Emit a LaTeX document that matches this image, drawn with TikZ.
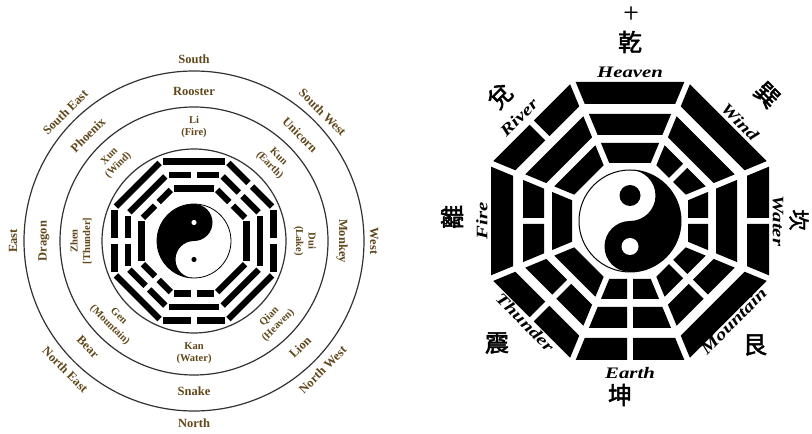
\documentclass[tikz,border=0pt]{standalone}
\usepackage{fontspec}
\setmainfont{Liberation Serif}
\newfontfamily\cjk[FakeBold=2]{Noto Sans CJK TC}
\definecolor{txtbrown}{RGB}{96,72,26}
\definecolor{ringgray}{RGB}{50,50,50}
\begin{document}
\begin{tikzpicture}[x=1pt,y=1pt,
  lab/.style={font=\fontsize{12.5}{13}\selectfont\bfseries, text=txtbrown, inner sep=0pt},
  tri/.style={font=\fontsize{10.5}{12.5}\selectfont\bfseries, text=txtbrown, align=center, inner sep=0pt},
  ringline/.style={draw=ringgray, line width=1.2pt},
  scr/.style={font=\fontsize{16}{16}\selectfont\bfseries\itshape, inner sep=0pt},
  han/.style={font=\cjk\fontsize{24}{24}\selectfont, inner sep=0pt}]
\useasboundingbox (0,0) rectangle (812,434);
\fill[white] (0,0) rectangle (812,434);

% ---------------- left diagram ----------------
\coordinate (LC) at (194,193);
\draw[ringline] (LC) circle[radius=170];
\draw[ringline] (LC) circle[radius=134];
\draw[ringline] (LC) circle[radius=92];

% directions
\node[lab] (south) at ([shift={(90:182)}]LC) {South};
\node[lab,rotate=45] (southeast) at ([shift={(135:182)}]LC) {South East};
\node[lab,rotate=90] (east) at ([shift={(180:181)}]LC) {East};
\node[lab,rotate=-45] (northeast) at ([shift={(225:182)}]LC) {North East};
\node[lab] (north) at ([shift={(270:182)}]LC) {North};
\node[lab,rotate=45] (northwest) at ([shift={(315:182)}]LC) {North West};
\node[lab,rotate=-90] (west) at ([shift={(0:180)}]LC) {West};
\node[lab,rotate=-45] (southwest) at ([shift={(45:182)}]LC) {South West};

% animals
\node[lab] (rooster) at ([shift={(90:150)}]LC) {Rooster};
\node[lab,rotate=45] (phoenix) at ([shift={(135:150)}]LC) {Phoenix};
\node[lab,rotate=90] (dragon) at ([shift={(180:150)}]LC) {Dragon};
\node[lab,rotate=-45] (bear) at ([shift={(225:150)}]LC) {Bear};
\node[lab] (snake) at ([shift={(270:150)}]LC) {Snake};
\node[lab,rotate=45] (lion) at ([shift={(315:150)}]LC) {Lion};
\node[lab,rotate=-90] (monkey) at ([shift={(0:148)}]LC) {Monkey};
\node[lab,rotate=-45] (unicorn) at ([shift={(45:150)}]LC) {Unicorn};

% trigram names
\node[tri] (lifire) at ([shift={(90:114)}]LC) {Li\\(Fire)};
\node[tri,rotate=45] (xunwind) at ([shift={(135:113)}]LC) {Xun\\(Wind)};
\node[tri,rotate=90] (zhenthunder) at ([shift={(180:113)}]LC) {Zhen\\{[}Thunder{]}};
\node[tri,rotate=-45] (genmountain) at ([shift={(225:113)}]LC) {Gen\\(Mountain)};
\node[tri] (kanwater) at ([shift={(270:112)}]LC) {Kan\\(Water)};
\node[tri,rotate=45] (qianheaven) at ([shift={(315:113)}]LC) {Qian\\(Heaven)};
\node[tri,rotate=-90] (duilake) at ([shift={(0:111)}]LC) {Dui\\(Lake)};
\node[tri,rotate=-45] (kunearth) at ([shift={(45:113)}]LC) {Kun\\(Earth)};

% trigram bars (inner, middle, outer): 1 solid, 0 broken
\foreach \ang/\bi/\bm/\bo in {90/1/0/1, 45/0/0/0, 0/1/1/0, -45/1/1/1, -90/0/1/0, -135/0/0/1, 180/1/0/0, 135/0/1/1}{
  \begin{scope}[shift={(LC)},rotate=\ang-90]
    \foreach \ap/\bit in {52.5/\bi, 66/\bm, 79.5/\bo}{
      \pgfmathsetmacro\hl{(0.828*\ap-4)/2}
      \ifnum\bit=1
        \fill[black] (-\hl,\ap-3.1) rectangle (\hl,\ap+3.1);
      \else
        \fill[black] (-\hl,\ap-3.1) rectangle (-2.6,\ap+3.1);
        \fill[black] (2.6,\ap-3.1) rectangle (\hl,\ap+3.1);
      \fi
    }
  \end{scope}
}

% left yin-yang
\fill[black] ([shift={(0,37)}]LC) arc[start angle=90,end angle=270,radius=37]
  arc[start angle=270,end angle=90,radius=18.5]
  arc[start angle=-90,end angle=90,radius=18.5] -- cycle;
\draw[black,line width=0.8pt] (LC) circle[radius=37];
\fill[white] ([shift={(0,18.5)}]LC) circle[radius=2.6];
\fill[black] ([shift={(0,-18.5)}]LC) circle[radius=2.6];

% ---------------- right diagram ----------------
\coordinate (RC) at (630,213);
\foreach \ang/\bi/\bm/\bo in {90/1/1/1, 45/0/1/1, 0/0/1/0, -45/0/0/1, -90/0/0/0, -135/1/0/0, 180/1/0/1, 135/1/1/0}{
  \begin{scope}[shift={(RC)},rotate=\ang-90]
    \foreach \ai/\ao/\bit in {58/78/\bi, 86/107/\bm, 117/139/\bo}{
      \pgfmathsetmacro\xin{\ai*0.41421-3.25}
      \pgfmathsetmacro\xout{\ao*0.41421-3.25}
      \ifnum\bit=1
        \fill[black] (-\xin,\ai) -- (\xin,\ai) -- (\xout,\ao) -- (-\xout,\ao) -- cycle;
      \else
        \fill[black] (-\xin,\ai) -- (-3,\ai) -- (-3,\ao) -- (-\xout,\ao) -- cycle;
        \fill[black] (3,\ai) -- (\xin,\ai) -- (\xout,\ao) -- (3,\ao) -- cycle;
      \fi
    }
  \end{scope}
}

% right yin-yang
\fill[black] ([shift={(0,51)}]RC) arc[start angle=90,end angle=-90,radius=51]
  arc[start angle=-90,end angle=-270,radius=25.5]
  arc[start angle=-90,end angle=90,radius=25.5] -- cycle;
\draw[black,line width=1pt] (RC) circle[radius=51];
\fill[black] ([shift={(0,25.5)}]RC) circle[radius=10.5];
\fill[white] ([shift={(0,-25.5)}]RC) circle[radius=8.5];

% script labels
\node[scr] (heaven) at ([shift={(90:149)}]RC) {\scalebox{1.3}[1]{Heaven}};
\node[scr,rotate=-45] (wind) at ([shift={(42:148)}]RC) {\scalebox{1.3}[1]{Wind}};
\node[scr,rotate=-90] (water) at ([shift={(0:148)}]RC) {\scalebox{1.3}[1]{Water}};
\node[scr,rotate=45] (mountain) at ([shift={(-44:144)}]RC) {\scalebox{1.3}[1]{Mountain}};
\node[scr] (earth) at ([shift={(-90:152)}]RC) {\scalebox{1.3}[1]{Earth}};
\node[scr,rotate=-45] (thunder) at ([shift={(-136:146)}]RC) {\scalebox{1.3}[1]{Thunder}};
\node[scr,rotate=90] (fire) at ([shift={(180:148)}]RC) {\scalebox{1.3}[1]{Fire}};
\node[scr,rotate=45] (river) at ([shift={(137:152)}]RC) {\scalebox{1.3}[1]{River}};

% Chinese characters
\node[han,font=\cjk\fontsize{14}{14}\selectfont] (shi) at (631,421) {十};
\node[han] (qian) at (630,392) {乾};
\node[han,rotate=45] (dui) at (500,338) {兌};
\node[han,rotate=-45] (xun) at (767,339) {巽};
\node[han,rotate=90] (li) at (452,217) {離};
\node[han,font=\cjk\fontsize{21}{21}\selectfont,rotate=-90] (kan) at (799,214) {坎};
\node[han] (zhen) at (497,91) {震};
\node[han] (gen) at (755,89) {艮};
\node[han] (kun) at (620,39) {坤};
\end{tikzpicture}
\end{document}
